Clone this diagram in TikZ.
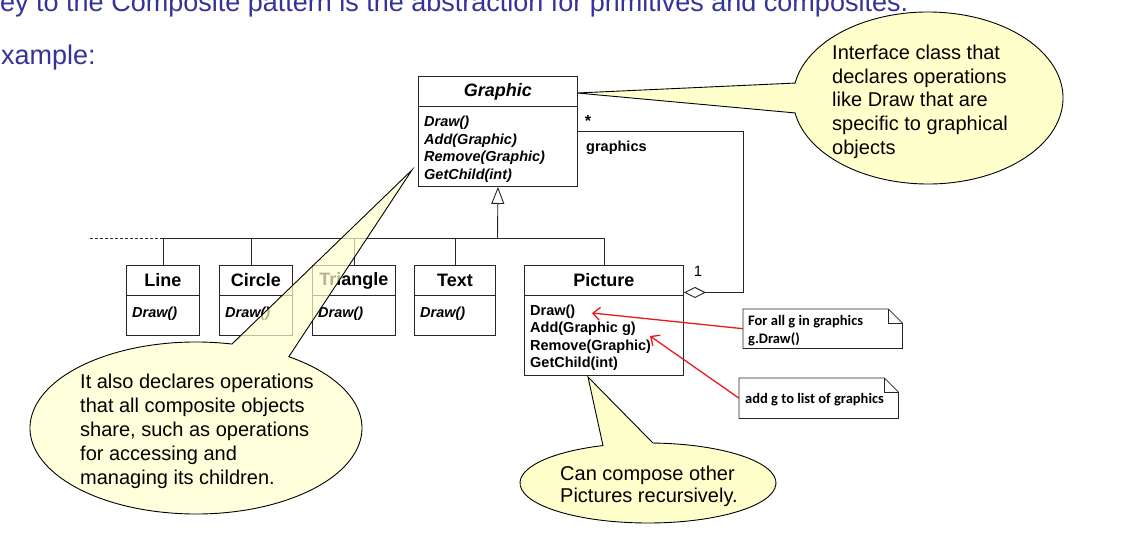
\documentclass[tikz,border=0pt]{standalone}
\usepackage{fontspec}
\setmainfont{Liberation Sans}
\newfontfamily\calib{Carlito}
\usetikzlibrary{arrows.meta,calc}
\definecolor{slideblue}{RGB}{51,51,153}
\definecolor{callfill}{RGB}{255,255,204}
\definecolor{notered}{RGB}{235,25,25}
\tikzset{
  uml/.style={draw=black!85, line width=0.9pt},
  cbox/.style={uml, rectangle, inner sep=0pt, anchor=north west},
  cname/.style={font=\fontsize{18}{21}\selectfont\bfseries},
  meth/.style={font=\fontsize{14.5}{17.5}\selectfont\bfseries, inner sep=0pt, anchor=base west},
  imeth/.style={meth, font=\fontsize{14.5}{17.5}\selectfont\bfseries\itshape},
  bluetxt/.style={font=\fontsize{27}{32}\selectfont, text=slideblue, inner sep=0pt, anchor=base west},
  calltext/.style={font=\fontsize{20}{24}\selectfont, inner sep=0pt, anchor=base west},
  callshape/.style={draw=black, line width=0.9pt, fill=callfill},
  notebox/.style={inner sep=0pt, anchor=north west},
  notetext/.style={font=\calib\bfseries\fontsize{14.5}{17.5}\selectfont, inner sep=0pt, anchor=base west},
  redarr/.style={draw=notered, line width=1.3pt, -{Straight Barb[length=7pt,width=13pt]}},
}
\begin{document}
\begin{tikzpicture}[x=1pt,y=1pt]
\clip (0,0) rectangle (1129,-537);
\fill[white] (0,0) rectangle (1129,-537);

% slide text
\node[bluetxt] (title) at (-18,-12) {Key to the Composite pattern is the abstraction for primitives and composites.};
\node[bluetxt] (ex) at (-17,-65) {Example:};

% Graphic class
\node[cbox, minimum width=159pt, minimum height=30pt, font=\fontsize{18}{21}\selectfont\bfseries\itshape] (gT) at (418,-76) {Graphic};
\node[cbox, minimum width=159pt, minimum height=80pt] (gM) at (418,-106) {};
\foreach \t [count=\i] in {Draw(), Add(Graphic), Remove(Graphic), GetChild(int)}
  \node[imeth] (gm\i) at (424,{-127-17.5*(\i-1)}) {\t};

% Picture class
\node[cbox, cname, minimum width=159pt, minimum height=30pt] (picT) at (524,-265) {Picture};
\node[cbox, minimum width=159pt, minimum height=80pt] (picM) at (524,-295) {};
\foreach \t [count=\i] in {Draw(), Add(Graphic g), Remove(Graphic), GetChild(int)}
  \node[meth] (pm\i) at (530,{-315-17.6*(\i-1)}) {\t};

% leaf classes
\foreach \nm/\x/\w/\id in {Line/126/73/ln, Circle/219/73/ci, Triangle/312/83/tr, Text/414/81/tx} {
  \node[cbox, cname, minimum width=\w pt, minimum height=30pt] (\id T) at (\x,-265) {\nm};
  \node[cbox, minimum width=\w pt, minimum height=40pt] (\id M) at (\x,-295) {};
  \node[imeth] (\id D) at (\x+6,-317) {Draw()};
}

% generalization
\coordinate (bus) at (497.5,-238);
\coordinate (ciJ) at ([xshift=-4.5pt]ciT.north);
\draw[uml] (lnT.north) |- (picT.north |- bus) -- (picT.north);
\draw[uml] (ciJ) -- (ciJ |- bus);
\draw[uml] (trT.north) -- (trT.north |- bus);
\draw[uml] (txT.north) -- (txT.north |- bus);
\draw[uml, -{Triangle[open, length=17pt, width=13pt]}] (bus) -- (gM.south);
\draw[uml, line width=0.6pt, dash pattern=on 3pt off 2pt] (lnT.north |- bus) -- ++(-75,0);

% aggregation
\coordinate (ac) at (743,-131);
\draw[uml, {Diamond[open, length=22pt, width=11pt]}-] ([yshift=-12pt]picT.east) -| (ac) -- (gM.east |- ac);
\node[font=\fontsize{16}{18}\selectfont\bfseries, inner sep=0pt] (star) at (588,-121) {*};
\node[font=\fontsize{14.5}{17}\selectfont\bfseries, inner sep=0pt, anchor=base west] (glab) at (586,-152) {graphics};
\node[font=\fontsize{15}{17}\selectfont, inner sep=0pt] (one) at (698,-271) {1};

% notes
\node[notebox, minimum width=159pt, minimum height=39pt] (n1) at (743,-309) {};
\node[notebox, minimum width=159pt, minimum height=40pt] (n2) at (739,-378) {};
\foreach \n in {n1,n2} {
  \draw[uml, line width=0.8pt] (\n.north west) -- ($(\n.north east)+(-14,0)$) -- ($(\n.north east)+(0,-14)$) -- (\n.south east) -- (\n.south west) -- cycle;
  \draw[uml, line width=0.8pt] ($(\n.north east)+(-14,0)$) -- ++(0,-14) -- ($(\n.north east)+(0,-14)$);
}
\node[notetext] (n1a) at (748,-325) {For all g in graphics};
\node[notetext] (n1b) at (748,-343) {g.Draw()};
\node[notetext] (n2a) at (745,-403) {add g to list of graphics};

\coordinate (drawTip) at (592,-313);
\coordinate (addTip) at (650,-336);
\draw[redarr] (n1.west) -- (drawTip);
\draw[redarr] (n2.west) -- (addTip);

% right callout
\coordinate (rTip) at (577,-93);
\draw[callshape] (rTip) -- ($(928,-98)+(170:135pt and 86pt)$) arc[start angle=170, end angle=-170, x radius=135pt, y radius=86pt] -- cycle;
\foreach \t [count=\i] in {Interface class that, declares operations, like Draw that are, specific to graphical, objects}
  \node[calltext] (rc\i) at (832,{-59.5-23.7*(\i-1)}) {\t};

% bottom callout
\coordinate (bTip) at (588,-377);
\draw[callshape] (bTip) -- ($(648,-483)+(87.8:128pt and 40pt)$) arc[start angle=87.8, end angle=-249.4, x radius=128pt, y radius=40pt] -- cycle;
\node[calltext] (bc1) at (560,-480) {Can compose other};
\node[calltext] (bc2) at (560,-502.5) {Pictures recursively.};

% left callout (translucent)
\coordinate (lTip) at (412,-170);
\draw[callshape, fill opacity=0.7] (lTip) -- ($(196,-428)+(77.5:166pt and 86pt)$) arc[start angle=77.5, end angle=416, x radius=166pt, y radius=86pt] -- cycle;
\foreach \t [count=\i] in {It also declares operations, that all composite objects, {share, such as operations}, for accessing and, managing its children.}
  \node[calltext] (lc\i) at (80,{-388-24.2*(\i-1)}) {\t};
\end{tikzpicture}
\end{document}
